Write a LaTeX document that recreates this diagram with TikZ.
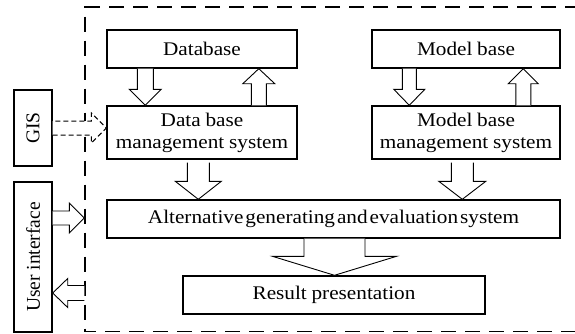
\documentclass[tikz,border=0pt]{standalone}
\usepackage{fontspec}
\setmainfont{Liberation Serif}[FakeStretch=1.1,WordSpace=0.9]
\newfontfamily\uprightlabel{Liberation Serif}
\usetikzlibrary{calc}
\newcommand\tightspace{\spaceskip=2pt\relax}

\tikzset{
  lbl/.style={font=\fontsize{19.3}{22}\selectfont},
  vlbl/.style={font=\uprightlabel\fontsize{19.5}{22}\selectfont, rotate=90, inner sep=0pt},
  box/.style={draw, line width=1.4pt, inner sep=0pt, align=center, lbl},
  blk/.style={draw, line width=0.9pt, fill=white, line join=miter},
  frame/.style={draw, line width=1.3pt, dash pattern=on 15pt off 9pt, dash phase=4pt, inner sep=0pt},
  dashedblk/.style={line width=1pt, dash pattern=on 5pt off 3pt},
}

% vertical block arrow: [style] {start}{tip}{shaft half width}{head half width}{head length}
\newcommand\vblk[6][]{%
  \draw[blk,#1] let \p1=#2, \p2=#3, \n1={sign(\y2-\y1)} in
    (\x1-#4,\y1) -- (\x1-#4,\y2-\n1*#6) -- (\x1-#5,\y2-\n1*#6) -- (\x1,\y2)
    -- (\x1+#5,\y2-\n1*#6) -- (\x1+#4,\y2-\n1*#6) -- (\x1+#4,\y1);}
% horizontal block arrow, same arguments
\newcommand\hblk[6][]{%
  \draw[blk,#1] let \p1=#2, \p2=#3, \n1={sign(\x2-\x1)} in
    (\x1,\y1-#4) -- (\x2-\n1*#6,\y1-#4) -- (\x2-\n1*#6,\y1-#5) -- (\x2,\y1)
    -- (\x2-\n1*#6,\y1+#5) -- (\x2-\n1*#6,\y1+#4) -- (\x1,\y1+#4);}

\begin{document}
\begin{tikzpicture}[x=1pt,y=-1pt]
\useasboundingbox (0,0) rectangle (575,333);
\clip (0,0) rectangle (575,333);

% dashed system boundary (runs past the right edge)
\node[frame, minimum width=515pt, minimum height=324.5pt] (frame) at (342.5,169.25) {};

% modules
\node[box, minimum width=190pt, minimum height=38pt] (db) at (202,49) {Database};
\node[box, minimum width=190pt, minimum height=53pt] (dbms) at (202,132.5) {Data base\\management system};
\node[box, minimum width=188pt, minimum height=38pt] (mb) at (466,49) {Model base};
\node[box, minimum width=188pt, minimum height=53pt] (mbms) at (466,132.5) {Model base\\management system};
\node[box, minimum width=453pt, minimum height=38pt] (alt) at (333.5,219) {\tightspace Alternative generating and evaluation system};
\node[box, minimum width=302pt, minimum height=38pt] (res) at (334,295) {Result presentation};

% external components
\node[box, minimum width=38pt, minimum height=76pt] (gis) at (33,128) {};
\node[vlbl] (gistext) at (gis) {GIS};
\node[box, minimum width=38pt, minimum height=150pt] (ui) at (33,257) {};
\node[vlbl] (uitext) at (ui) {User interface};

% data flows
\vblk{($(db.south west)+(39,0)$)}{($(dbms.north west)+(39,0)$)}{8pt}{16pt}{16pt}
\vblk{($(dbms.north west)+(152.5,0)$)}{($(db.south west)+(152.5,0)$)}{7.5pt}{16pt}{15pt}
\vblk{($(mb.south west)+(38,0)$)}{($(mbms.north west)+(38,0)$)}{7pt}{15.5pt}{16pt}
\vblk{($(mbms.north west)+(152,0)$)}{($(mb.south west)+(152,0)$)}{7.5pt}{15pt}{15pt}
\vblk{($(dbms.south west)+(92,3)$)}{($(alt.north west)+(92,0)$)}{11pt}{23pt}{18pt}
\vblk{($(mbms.south west)+(91,3)$)}{($(alt.north west)+(356,0)$)}{11pt}{23.5pt}{18pt}
\vblk{($(res.north |- alt.south)+(0.5,0)$)}{($(res.north)+(0.5,0)$)}{30.5pt}{62pt}{19pt}

\hblk[dashedblk]{(gis.east)}{(dbms.west |- gis.east)}{7pt}{15pt}{15pt}

\coordinate (uiA) at ($(ui.east)+(0,-39)$);
\coordinate (uiB) at ($(ui.east)+(0,36)$);
\hblk{(uiA)}{(frame.west |- uiA)}{7pt}{15pt}{15pt}
\hblk{(frame.west |- uiB)}{(uiB)}{7.5pt}{14.5pt}{15pt}
\end{tikzpicture}
\end{document}
